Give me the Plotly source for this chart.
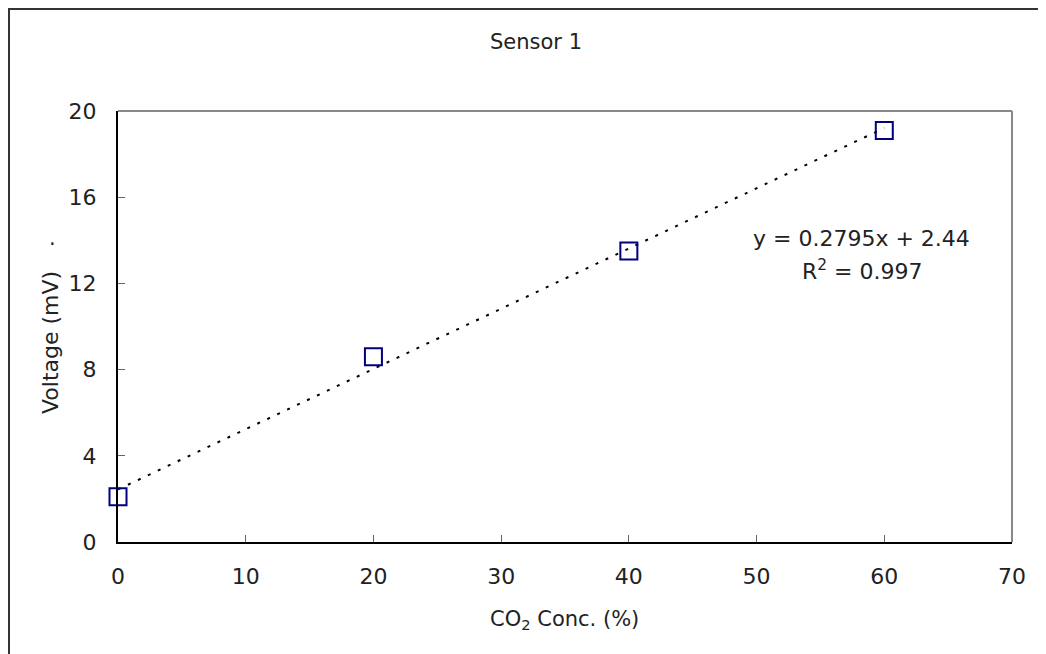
import numpy as np
import plotly.graph_objects as go

# Data
co2_conc = [0, 20, 40, 60]
voltage = [2.1, 8.6, 13.5, 19.1]
x_ticks = [0, 10, 20, 30, 40, 50, 60, 70]
y_ticks = [0, 4, 8, 12, 16, 20]
title_text = "Sensor 1"
eq_line1 = "y = 0.2795x + 2.44"
eq_line2 = "R<sup>2</sup> = 0.997"
x_title = "CO<sub>2</sub> Conc. (%)"
y_title = "Voltage (mV)"

slope, intercept = np.polyfit(co2_conc, voltage, 1)
fit_x = [min(co2_conc), max(co2_conc)]
fit_y = [slope * v + intercept for v in fit_x]

FONT = "DejaVu Sans, Noto Sans CJK KR, sans-serif"

# page body has an 8px margin; work in screen coordinates and subtract it
OFF = 8
L, R, T, B = 118 - OFF, 1012 - OFF, 111 - OFF, 542 - OFF
W, H = 1046 - OFF, 654 - OFF


def px(x):
    return (x - OFF - L) / (R - L)


def py(y):
    return (B - (y - OFF)) / (B - T)


fig = go.Figure()
fig.add_trace(go.Scatter(
    x=fit_x, y=fit_y, mode="lines",
    line=dict(color="black", width=2, dash="3px,8px"),
    showlegend=False, hoverinfo="skip"))
fig.add_trace(go.Scatter(
    x=co2_conc, y=voltage, mode="markers",
    marker=dict(symbol="square-open", size=17, color="#000080",
                line=dict(width=2, color="#000080")),
    showlegend=False, cliponaxis=False))

axis_common = dict(ticks="inside", ticklen=7, tickwidth=1, tickcolor="#666",
                   showgrid=False, zeroline=False, showline=True,
                   linecolor="black", linewidth=2, mirror=False,
                   tickfont=dict(size=22, color="#222"))

fig.update_layout(
    width=W, height=H,
    margin=dict(l=L, r=W - R, t=T, b=H - B, pad=0),
    paper_bgcolor="white", plot_bgcolor="white",
    font=dict(family=FONT, size=22, color="#222"),
    xaxis=dict(range=[0, 70], tickvals=x_ticks, ticklabelstandoff=14, **axis_common),
    yaxis=dict(range=[0, 20], tickvals=y_ticks, ticklabelstandoff=15, **axis_common),
    shapes=[
        dict(type="line", xref="paper", yref="paper", x0=0, x1=1, y0=1, y1=1,
             line=dict(color="#888", width=2)),
        dict(type="line", xref="paper", yref="paper", x0=1, x1=1, y0=0, y1=1,
             line=dict(color="#888", width=2)),
        dict(type="rect", xref="paper", yref="paper",
             x0=px(9), x1=px(1070), y0=py(9), y1=py(680),
             line=dict(color="#333", width=2)),
    ],
    annotations=[
        dict(text=title_text, x=px(536), y=py(42), xref="paper", yref="paper",
             showarrow=False, font=dict(size=21), xanchor="center", yanchor="middle"),
        dict(text=eq_line1, x=px(861), y=py(238), xref="paper", yref="paper",
             showarrow=False, font=dict(size=22),
             xanchor="center", yanchor="middle"),
        dict(text=eq_line2, x=px(862), y=py(270), xref="paper", yref="paper",
             showarrow=False, font=dict(size=22),
             xanchor="center", yanchor="middle"),
        dict(text=x_title, x=px(564), y=py(620), xref="paper", yref="paper",
             showarrow=False, font=dict(size=21), xanchor="center", yanchor="middle"),
        dict(text=y_title, x=px(50), y=py(343), xref="paper", yref="paper",
             showarrow=False, font=dict(size=22), textangle=-90,
             xanchor="center", yanchor="middle"),
        dict(text=".", x=px(52), y=py(238), xref="paper", yref="paper",
             showarrow=False, font=dict(size=21), xanchor="center", yanchor="middle"),
    ],
)

fig.write_html("out.html")
